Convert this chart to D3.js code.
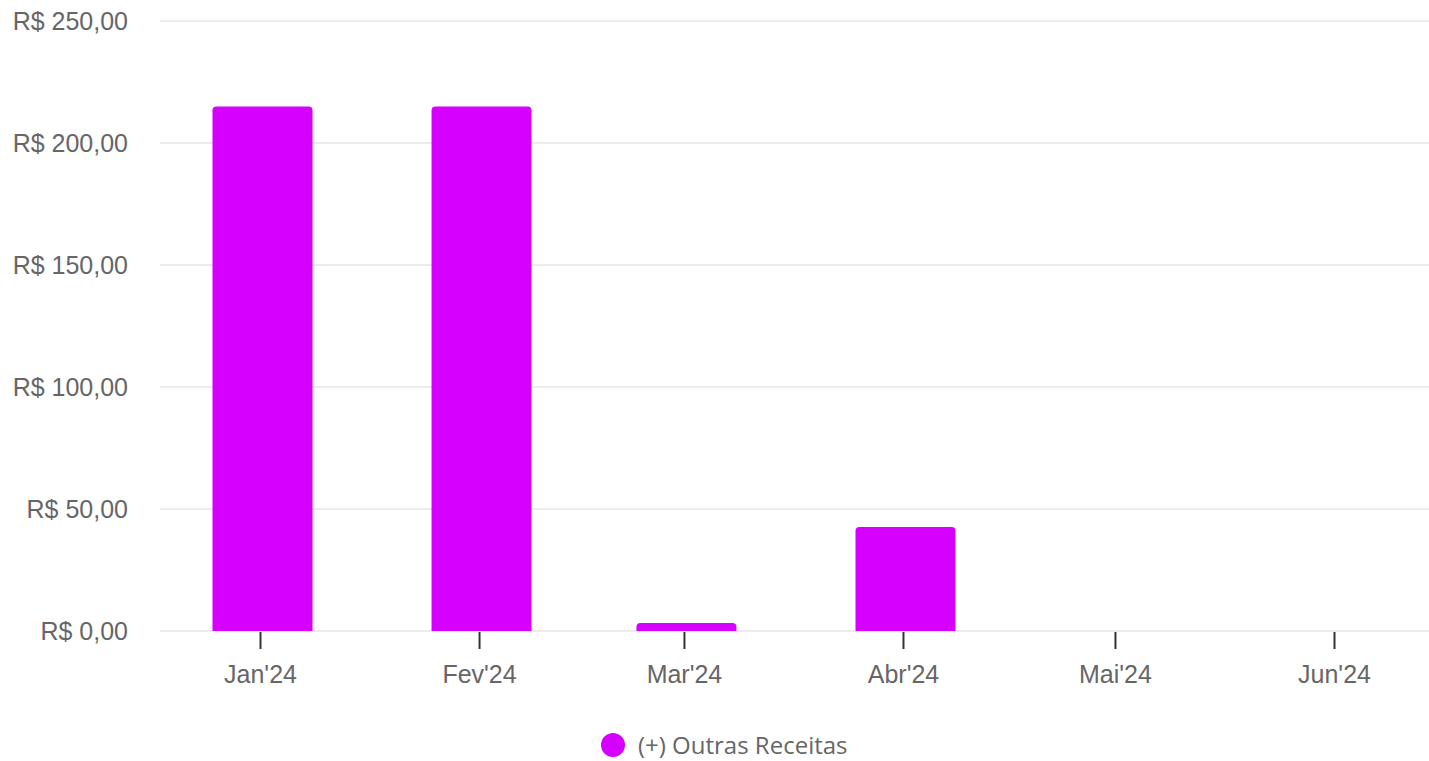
<!DOCTYPE html>
<html><head><meta charset="utf-8">
<script src="https://cdn.jsdelivr.net/npm/d3@7"></script>
<style>body{margin:0;background:#fff}svg{display:block}</style>
</head><body>
<svg id="c" width="1429" height="761"></svg>
<script>
const months = ["2024-01-01","2024-02-01","2024-03-01","2024-04-01","2024-05-01","2024-06-01"];
const monthLabels = ["Jan'24","Fev'24","Mar'24","Abr'24","Mai'24","Jun'24"];
const values = [215, 215, 3.3, 42.6, 0, 0];
const yTicks = [0, 50, 100, 150, 200, 250];
const seriesName = "(+) Outras Receitas";
const color = "#d500ff";

const svg = d3.select("#c");
const parse = d3.timeParse("%Y-%m-%d");
const dates = months.map(parse);
const plotLeft = 160, plotRight = 1429, plotTop = 21, plotBottom = 631;

const x = d3.scaleTime().domain([dates[0], dates[dates.length-1]]).range([260, 1334]);
const y = d3.scaleLinear().domain([0, 250]).range([plotBottom, plotTop]);
const fmt = v => "R$ " + d3.format(",.2f")(v).replace(/,/g,"X").replace(".",",").replace(/X/g,".");

// grid
svg.append("g").selectAll("line").data(yTicks).join("line")
  .attr("x1", plotLeft).attr("x2", plotRight)
  .attr("y1", d => y(d)).attr("y2", d => y(d))
  .attr("stroke", "#e6e6e6").attr("stroke-width", 1.5);

// y labels
svg.append("g").selectAll("text").data(yTicks).join("text")
  .attr("x", 128).attr("y", d => y(d)).attr("dy", "0.35em")
  .attr("text-anchor", "end").attr("fill", "#666")
  .style("font-family", "Liberation Sans, Arial, sans-serif").style("font-size", "25px")
  .text(fmt);

// bars
const bw = 100, r = 4;
const barPath = (cx, top, bottom) => {
  const h = bottom - top;
  if (h <= 0) return "";
  const rr = Math.min(r, h);
  const l = cx - bw/2, rt = cx + bw/2;
  return `M${l},${bottom}V${top+rr}Q${l},${top} ${l+rr},${top}H${rt-rr}Q${rt},${top} ${rt},${top+rr}V${bottom}Z`;
};
svg.append("g").selectAll("path").data(values.map((v,i)=>({v, d: dates[i]}))).join("path")
  .attr("d", d => barPath(x(d.d)+2.5, y(d.v), y(0)))
  .attr("fill", color);

// x axis
const xAxis = d3.axisBottom(x).tickValues(dates).tickSize(17).tickPadding(16)
  .tickFormat((d,i) => monthLabels[i]);
const gx = svg.append("g").attr("transform", `translate(0,${plotBottom+1})`).call(xAxis);
gx.select(".domain").remove();
gx.selectAll(".tick line").attr("stroke", "#333").attr("stroke-width", 2);
gx.selectAll(".tick text").attr("fill", "#666")
  .style("font-family", "Liberation Sans, Arial, sans-serif").style("font-size", "25px");

// legend
const lg = svg.append("g");
lg.append("circle").attr("cx", 613).attr("cy", 745).attr("r", 12).attr("fill", color);
lg.append("text").attr("x", 638).attr("y", 746).attr("dy", "0.35em").attr("fill", "#666")
  .style("font-family", "Open Sans, sans-serif").style("font-size", "24px").text(seriesName);
</script>
</body></html>
